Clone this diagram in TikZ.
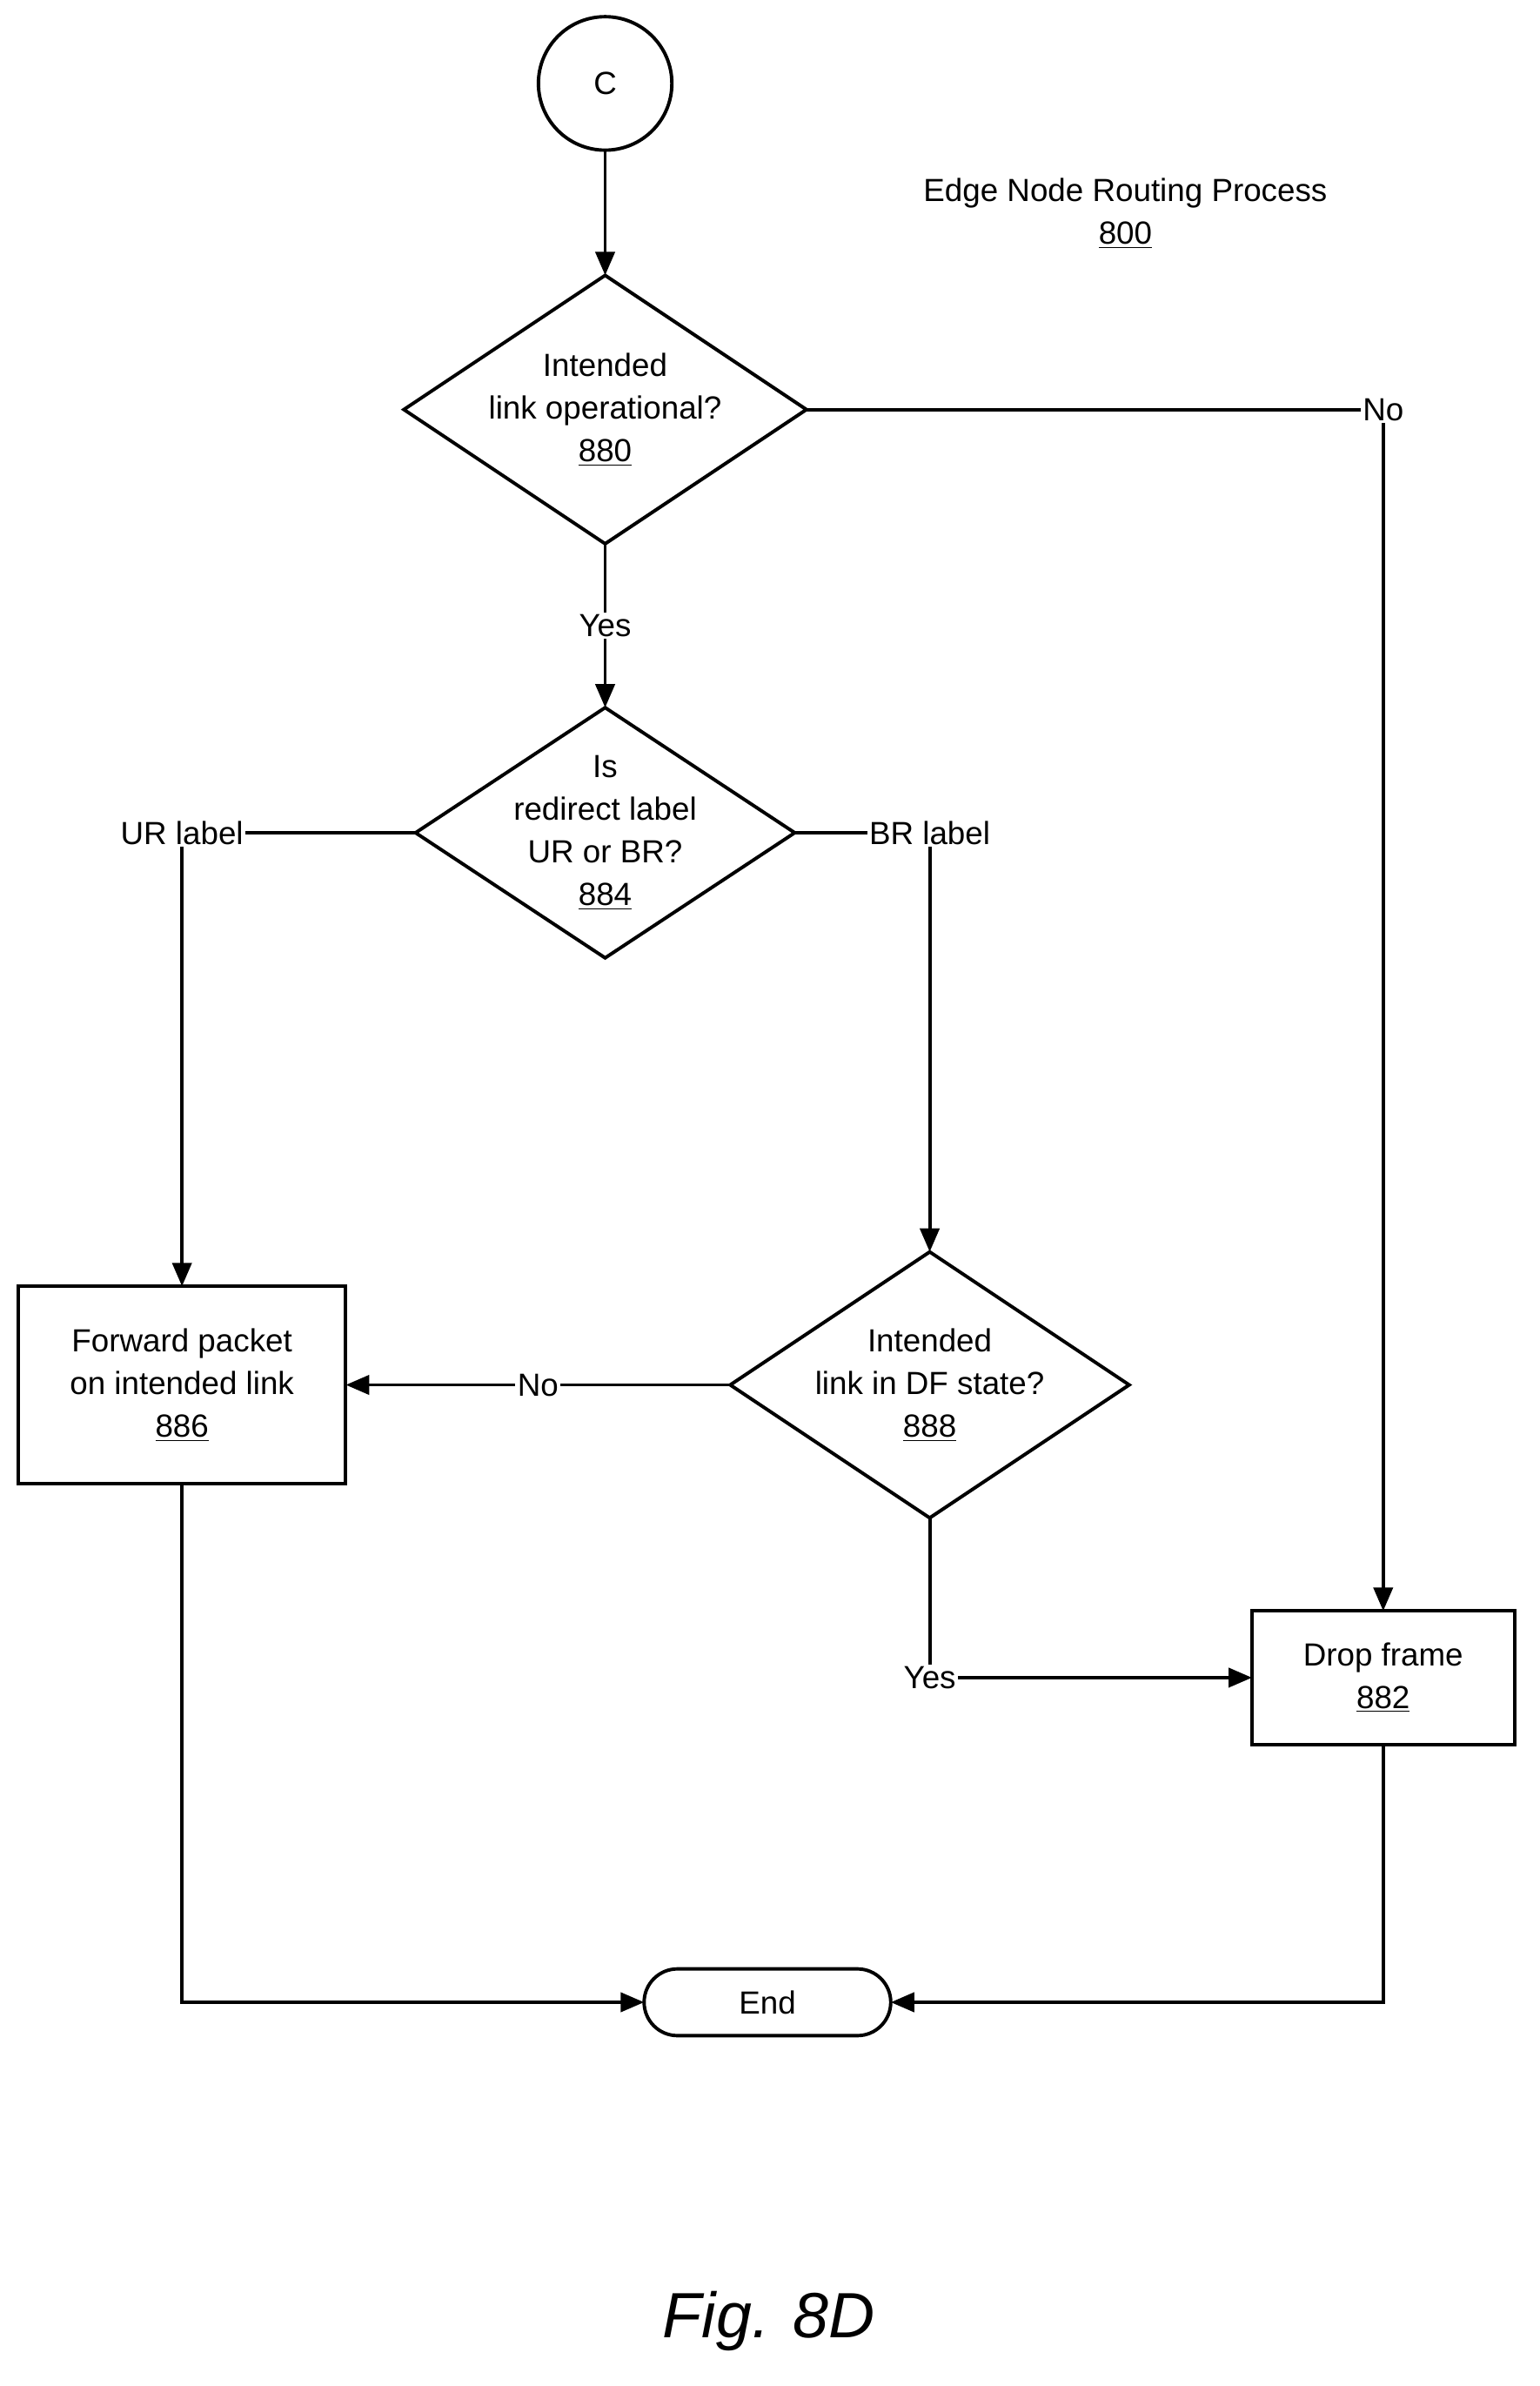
\documentclass[tikz,border=0pt]{standalone}
\usepackage{fontspec}
\setmainfont{Liberation Sans}
\usetikzlibrary{shapes.geometric,shapes.misc,arrows.meta}
\begin{document}
\begin{tikzpicture}[x=0.025cm, y=-0.025cm,
  every node/.style={font=\fontsize{15}{20}\selectfont, align=center},
  dec/.style={diamond, draw, line width=1.6pt, minimum width=250*0.025cm, minimum height=165*0.025cm, aspect=1.5, inner sep=0pt, outer sep=0pt},
  proc/.style={rectangle, draw, line width=1.6pt, inner sep=0pt, outer sep=0pt},
  flow/.style={-{Triangle[length=11pt,width=9pt]}, line width=1.6pt},
  lbl/.style={fill=white, inner sep=1pt}]
  \useasboundingbox (0,0) rectangle (1015,1573);

  \node[circle, draw, line width=1.6pt, minimum size=88*0.025cm, outer sep=0pt] (c) at (399,55) {C};
  \node (title) at (742,141) {Edge Node Routing Process\\\underline{800}};

  \node[dec] (d880) at (399,270) {Intended\\link operational?\\\underline{880}};
  \node[dec, inner sep=-7pt] (d884) at (399,549) {Is\\redirect label\\UR or BR?\\\underline{884}};
  \node[dec] (d888) at (613,913) {Intended\\link in DF state?\\\underline{888}};

  \node[proc, minimum width=216*0.025cm, minimum height=130*0.025cm] (s886) at (120,913) {Forward packet\\on intended link\\\underline{886}};
  \node[proc, minimum width=173*0.025cm, minimum height=88*0.025cm] (s882) at (912,1106) {Drop frame\\\underline{882}};
  \node[rounded rectangle, draw, line width=1.6pt, minimum width=172*0.025cm, minimum height=44*0.025cm, outer sep=0pt] (end) at (506,1320) {End};

  \draw[flow] (c) -- (d880);
  \draw[flow] (d880) -- node[lbl] {Yes} (d884);
  \draw[flow] (d880.east) -| node[lbl, pos=0.5] {No} (s882.north);
  \draw[flow] (d884.west) -| node[lbl, pos=0.5] {UR label} (s886.north);
  \draw[flow] (d884.east) -| node[lbl, pos=0.5] {BR label} (d888.north);
  \draw[flow] (d888.west) -- node[lbl, pos=0.5] {No} (s886.east);
  \draw[flow] (d888.south) |- node[lbl, pos=0.5] {Yes} (s882.west);
  \draw[flow] (s886.south) |- (end.west);
  \draw[flow] (s882.south) |- (end.east);

  \node[font=\fontsize{30}{34}\selectfont\itshape] (fig) at (507,1530) {Fig. 8D};
\end{tikzpicture}
\end{document}
